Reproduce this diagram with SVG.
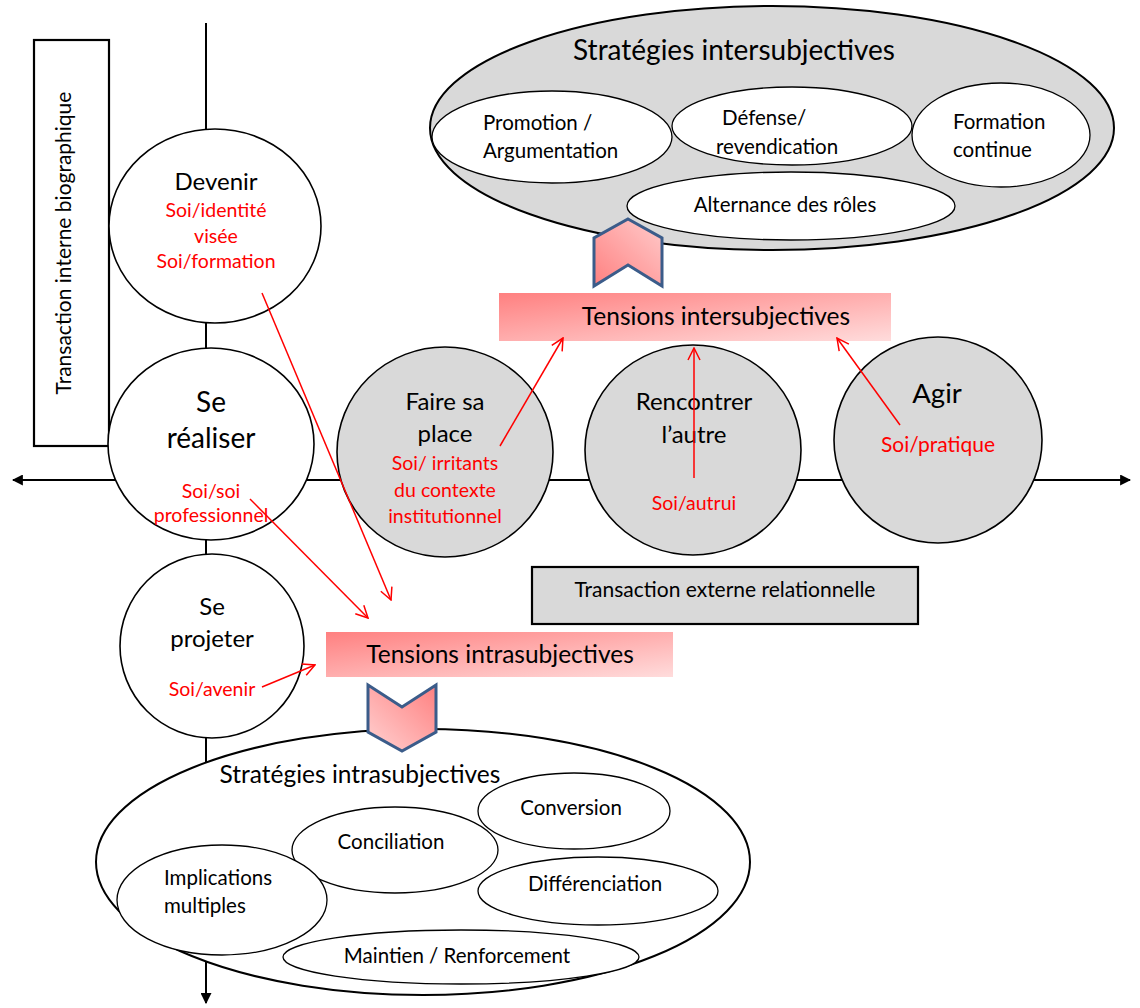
<svg xmlns="http://www.w3.org/2000/svg" width="1140" height="1008" viewBox="0 0 1140 1008">
  <style>
    text { font-family: Lato, "Liberation Sans", sans-serif; fill: #000; }
    .lbl { font-size: 20.5px; text-anchor: middle; }
    .lbl-l { font-size: 20.5px; }
    .big { font-size: 24px; text-anchor: middle; }
    .red { fill: #ff0000; font-size: 19.5px; text-anchor: middle; }
    .title { font-size: 28px; text-anchor: middle; }
    .node { stroke: #000; stroke-width: 1.6; }
    .white { fill: #fff; }
    .grey { fill: #d9d9d9; }
    .inner { fill: #fff; stroke: #000; stroke-width: 1.3; }
    .axis { stroke: #000; stroke-width: 2; fill: none; }
    .tie { stroke: #ff0000; stroke-width: 1.5; fill: none; marker-end: url(#redHead); }
    .chev { stroke: #3b5c8a; stroke-width: 3; stroke-linejoin: miter; }
  </style>
  <defs>
    <linearGradient id="barFill" x1="0" y1="0" x2="1" y2="1">
      <stop offset="0" stop-color="#ff8080"/>
      <stop offset="1" stop-color="#ffdcdc"/>
    </linearGradient>
    <linearGradient id="chevUpFill" x1="0" y1="1" x2="1" y2="0">
      <stop offset="0" stop-color="#ff8080"/>
      <stop offset="1" stop-color="#ffcccc"/>
    </linearGradient>
    <linearGradient id="chevDownFill" x1="1" y1="0" x2="0" y2="1">
      <stop offset="0" stop-color="#ff8080"/>
      <stop offset="1" stop-color="#ffd2d2"/>
    </linearGradient>
    <marker id="redHead" viewBox="0 0 14 14" refX="13" refY="7" markerWidth="14" markerHeight="14" markerUnits="userSpaceOnUse" orient="auto">
      <path d="M1,1 L13,7 L1,13" fill="none" stroke="#ff0000" stroke-width="1.5"/>
    </marker>
    <marker id="blackHead" viewBox="0 0 10 10" refX="9" refY="5" markerWidth="11" markerHeight="11" markerUnits="userSpaceOnUse" orient="auto-start-reverse">
      <path d="M0,0 L10,5 L0,10 Z" fill="#000"/>
    </marker>
  </defs>

  <!-- axes: biographical (vertical) and relational (horizontal) -->
  <g id="axes">
    <line class="axis" x1="206" y1="23" x2="206" y2="1003" marker-end="url(#blackHead)"/>
    <line class="axis" x1="13" y1="480" x2="1130" y2="480" marker-start="url(#blackHead)" marker-end="url(#blackHead)"/>
  </g>

  <g id="transaction-interne">
    <rect x="34" y="40" width="75" height="406" fill="#fff" stroke="#000" stroke-width="2.2"/>
    <text transform="translate(71,243) rotate(-90)" style="font-size:21px;text-anchor:middle">Transaction interne biographique</text>
  </g>

  <g id="devenir">
    <ellipse class="node white" cx="215" cy="226" rx="106" ry="97"/>
    <text class="big" x="216" y="190">Devenir</text>
    <text class="red" x="216" y="217">Soi/identité</text>
    <text class="red" x="216" y="243">visée</text>
    <text class="red" x="216" y="268">Soi/formation</text>
  </g>

  <g id="se-realiser">
    <ellipse class="node white" cx="211" cy="444" rx="103" ry="96"/>
    <text class="big" x="211" y="412" style="font-size:28px">Se</text>
    <text class="big" x="211" y="448" style="font-size:28px">réaliser</text>
    <text class="red" x="211" y="498">Soi/soi</text>
    <text class="red" x="211" y="522">professionnel</text>
  </g>

  <g id="se-projeter">
    <ellipse class="node white" cx="212" cy="646" rx="92" ry="92"/>
    <text class="big" x="212" y="615">Se</text>
    <text class="big" x="212" y="647">projeter</text>
    <text class="red" x="212" y="696">Soi/avenir</text>
  </g>

  <g id="faire-sa-place">
    <ellipse class="node grey" cx="445" cy="452" rx="108" ry="105"/>
    <text class="big" x="445" y="410">Faire sa</text>
    <text class="big" x="445" y="442">place</text>
    <text class="red" x="445" y="470">Soi/ irritants</text>
    <text class="red" x="445" y="497">du contexte</text>
    <text class="red" x="445" y="523">institutionnel</text>
  </g>

  <g id="rencontrer">
    <ellipse class="node grey" cx="693" cy="450" rx="108" ry="105"/>
    <text class="big" x="694" y="410">Rencontrer</text>
    <text class="big" x="694" y="443">l’autre</text>
    <text class="red" x="694" y="510">Soi/autrui</text>
  </g>

  <g id="agir">
    <ellipse class="node grey" cx="938" cy="440" rx="104" ry="103"/>
    <text class="big" x="937" y="403" style="font-size:27.5px">Agir</text>
    <text class="red" x="938" y="452" style="font-size:21px">Soi/pratique</text>
  </g>

  <g id="transaction-externe">
    <rect x="532" y="567" width="386" height="57" fill="#d9d9d9" stroke="#000" stroke-width="2.2"/>
    <text class="lbl" x="725" y="597" style="font-size:21px">Transaction externe relationnelle</text>
  </g>

  <g id="strategies-inter">
    <ellipse cx="772" cy="128" rx="342" ry="122" fill="#d9d9d9" stroke="#000" stroke-width="2"/>
    <text class="title" x="734" y="60">Stratégies intersubjectives</text>
    <ellipse class="inner" cx="552" cy="137" rx="120" ry="46"/>
    <text class="lbl-l" x="483" y="130">Promotion /</text>
    <text class="lbl-l" x="483" y="158">Argumentation</text>
    <ellipse class="inner" cx="792" cy="126" rx="120" ry="39"/>
    <text class="lbl-l" x="722" y="125">Défense/</text>
    <text class="lbl-l" x="716" y="154">revendication</text>
    <ellipse class="inner" cx="1001" cy="135" rx="89" ry="52"/>
    <text class="lbl-l" x="953" y="129">Formation</text>
    <text class="lbl-l" x="953" y="157">continue</text>
    <ellipse class="inner" cx="791" cy="206" rx="164" ry="34"/>
    <text class="lbl" x="785" y="212">Alternance des rôles</text>
  </g>

  <g id="chevron-up">
    <polygon class="chev" points="628,219 662,238 662,286 628,265 594,286 594,238" fill="url(#chevUpFill)"/>
  </g>

  <g id="tensions-inter">
    <rect x="499" y="293" width="392" height="48" fill="url(#barFill)"/>
    <text class="big" x="716" y="325" style="font-size:24.5px">Tensions intersubjectives</text>
  </g>

  <g id="tensions-intra">
    <rect x="326" y="632" width="347" height="45" fill="url(#barFill)"/>
    <text class="big" x="500" y="663" style="font-size:24.5px">Tensions intrasubjectives</text>
  </g>

  <g id="strategies-intra">
    <ellipse cx="423" cy="862" rx="327" ry="133" fill="#fff" stroke="#000" stroke-width="2"/>
    <text class="big" x="360" y="783" style="font-size:24.5px">Stratégies intrasubjectives</text>
    <ellipse class="inner" cx="574" cy="811" rx="96" ry="38"/>
    <text class="lbl" x="571" y="815">Conversion</text>
    <ellipse class="inner" cx="395" cy="850" rx="103" ry="43"/>
    <text class="lbl" x="391" y="849">Conciliation</text>
    <ellipse class="inner" cx="222" cy="900" rx="105" ry="55"/>
    <text class="lbl-l" x="164" y="885">Implications</text>
    <text class="lbl-l" x="164" y="913">multiples</text>
    <ellipse class="inner" cx="598" cy="891" rx="120" ry="34"/>
    <text class="lbl" x="595" y="891">Différenciation</text>
    <ellipse class="inner" cx="461" cy="957" rx="178" ry="27"/>
    <text class="lbl" x="457" y="963">Maintien / Renforcement</text>
  </g>

  <g id="chevron-down">
    <polygon class="chev" points="368,685 402,707 436,685 436,732 402,751 368,732" fill="url(#chevDownFill)"/>
  </g>

  <!-- sources of tension feeding each bar -->
  <g id="connectors">
    <line class="tie" x1="262" y1="293" x2="391" y2="600"/>
    <line class="tie" x1="250" y1="499" x2="368" y2="618"/>
    <line class="tie" x1="262" y1="687" x2="315" y2="665"/>
    <line class="tie" x1="500" y1="446" x2="563" y2="338"/>
    <line class="tie" x1="694" y1="478" x2="694" y2="348"/>
    <line class="tie" x1="900" y1="425" x2="837" y2="338"/>
  </g>
</svg>
